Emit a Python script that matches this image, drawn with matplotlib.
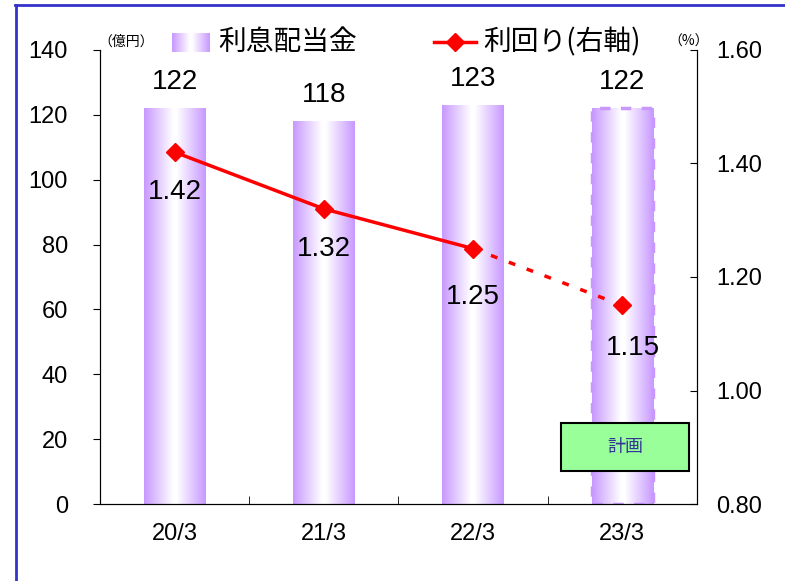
import numpy as np
import matplotlib.pyplot as plt
from matplotlib.lines import Line2D
from matplotlib.patches import Rectangle
from matplotlib.colors import LinearSegmentedColormap

plt.rcParams['font.family'] = ['Liberation Sans', 'Noto Sans CJK JP', 'DejaVu Sans']

# =========================
# DATA
# =========================

periods = ["20/3", "21/3", "22/3", "23/3"]
dividends = [122, 118, 123, 122]          # 億円
yields = [1.42, 1.32, 1.25, 1.15]         # %
plan_label = "計画"

bar_color = "#C898FF"
line_color = "#FF0000"

# =========================
# FIGURE
# =========================

fig = plt.figure(figsize=(7.85, 5.81), dpi=100)
ax = fig.add_axes([0.1274, 0.1325, 0.7604, 0.7815])
ax2 = ax.twinx()

x = np.arange(len(periods))
width = 0.41

# horizontal gradient: purple edges, white centre
grad_cmap = LinearSegmentedColormap.from_list(
    "bargrad", [(0.0, bar_color), (0.47, "#FFFFFF"), (0.53, "#FFFFFF"), (1.0, bar_color)]
)
grad = np.linspace(0, 1, 256).reshape(1, -1)

for i, val in enumerate(dividends):
    ax.imshow(grad, cmap=grad_cmap, aspect="auto", interpolation="bilinear",
              extent=(x[i] - width / 2, x[i] + width / 2, 0, val), zorder=1)
    ax.text(x[i], val + 4, str(val), ha="center", va="bottom", fontsize=20)

# dashed outline on the plan bar
ax.bar(x[3], dividends[3], width=width, fill=False, edgecolor=bar_color,
       linestyle=(0, (3, 3)), linewidth=2.5, zorder=2)

ax.set_xlim(-0.5, 3.5)
ax.set_ylim(0, 140)
ax.set_yticks(range(0, 141, 20))
ax.set_xticks(x)
ax.set_xticklabels(periods)
ax.set_xticks(np.arange(0.5, 3.5, 1), minor=True)
ax.tick_params(axis="x", which="major", length=0, pad=14, labelsize=17)
ax.tick_params(axis="x", which="minor", direction="in", length=6)
ax.tick_params(axis="y", direction="out", length=5, labelsize=17, pad=18)
ax.spines["top"].set_visible(False)

# =========================
# YIELD LINE (right axis)
# =========================

ax2.plot(x[:3], yields[:3], color=line_color, linewidth=2.5, zorder=3)
ax2.plot(x[2:], yields[2:], color=line_color, linewidth=2.5,
         linestyle=(0, (2, 3.5)), zorder=3)
ax2.plot(x, yields, linestyle="none", marker="D", markersize=9,
         color=line_color, zorder=4)

offsets = [-0.07, -0.07, -0.085, -0.075]
shifts = [0, 0, 0, 0.07]
for i, v in enumerate(yields):
    ax2.text(x[i] + shifts[i], v + offsets[i], f"{v:.2f}", ha="center", va="center",
             fontsize=20)

ax2.set_ylim(0.8, 1.6)
ax2.set_yticks(np.arange(0.8, 1.61, 0.2))
ax2.set_yticklabels([f"{t:.2f}" for t in np.arange(0.8, 1.61, 0.2)])
ax2.tick_params(axis="y", direction="in", length=5, labelsize=17, pad=14)
ax2.spines["top"].set_visible(False)

# =========================
# LEGEND / UNITS
# =========================

fig.text(98 / 785, 1 - 42 / 581, "（億円）", fontsize=10, ha="left", va="center",
         family=["Noto Sans CJK JP"])
fig.text(668 / 785, 1 - 42 / 581, "（%）", fontsize=10, ha="left", va="center",
         family=["Noto Sans CJK JP"])

leg_grad = fig.add_axes([172 / 785, 1 - 52 / 581, 38 / 785, 19 / 581])
leg_grad.imshow(grad, cmap=grad_cmap, aspect="auto", interpolation="bilinear")
leg_grad.axis("off")
fig.text(218 / 785, 1 - 42 / 581, "利息配当金", fontsize=20, ha="left", va="center",
         family=["Noto Sans CJK JP"])

fig.add_artist(Line2D([434 / 785, 476 / 785], [1 - 42 / 581, 1 - 42 / 581],
                      color=line_color, linewidth=2.5, transform=fig.transFigure))
fig.add_artist(Line2D([455 / 785], [1 - 42 / 581], color=line_color, marker="D",
                      markersize=9, linestyle="none", transform=fig.transFigure))
fig.text(483 / 785, 1 - 42 / 581, "利回り(右軸)", fontsize=20, ha="left", va="center",
         family=["Noto Sans CJK JP"])

# plan box
ax.add_patch(Rectangle((0.772, 0.073), 0.215, 0.105, transform=ax.transAxes,
                       facecolor="#99FF99", edgecolor="black", linewidth=1.5, zorder=5))
ax.text(0.8795, 0.1255, plan_label, transform=ax.transAxes, ha="center", va="center",
        fontsize=13, color="#333399", family=["Noto Sans CJK JP"], zorder=6)

# blue frame
fig.add_artist(Line2D([15 / 785, 1], [1 - 5 / 581, 1 - 5 / 581], color="#3333CC",
                      linewidth=2, transform=fig.transFigure))
fig.add_artist(Line2D([16 / 785, 16 / 785], [0, 1 - 5 / 581], color="#3333CC",
                      linewidth=2, transform=fig.transFigure))

fig.savefig("out.png", dpi=100)
